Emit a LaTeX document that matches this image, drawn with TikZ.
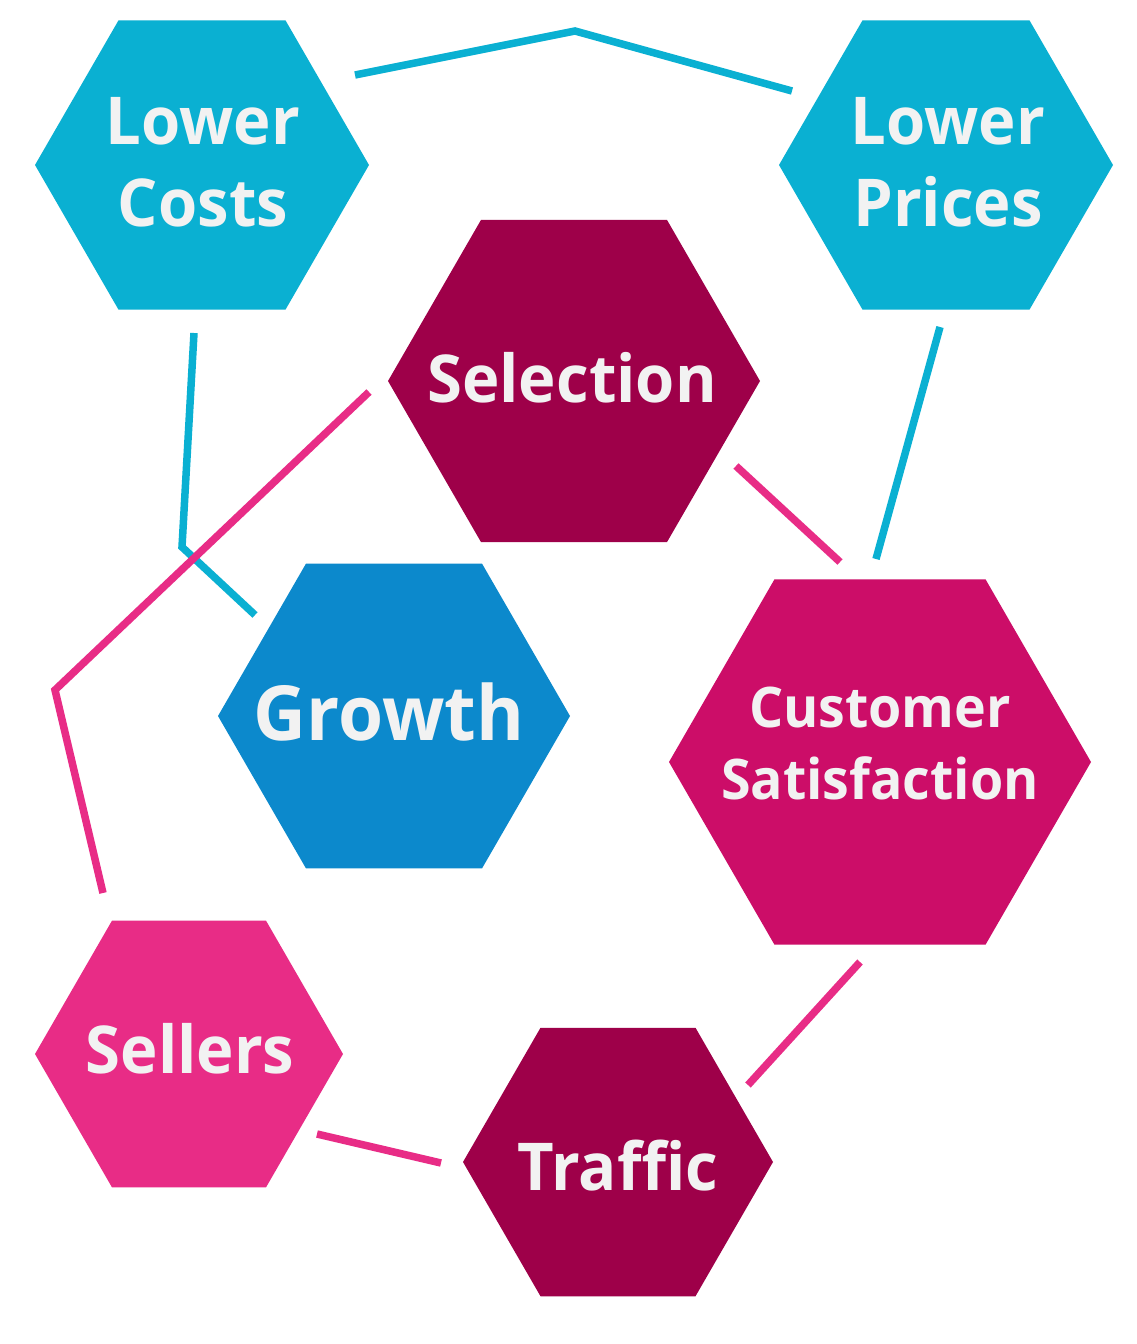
\documentclass[tikz,border=0pt]{standalone}
\usepackage{fontspec}
\setmainfont{Open Sans}[FakeStretch=0.96]
\definecolor{cyanhex}{HTML}{0AB0D2}
\definecolor{plum}{HTML}{9E0049}
\definecolor{bluehex}{HTML}{0C89CC}
\definecolor{magenta2}{HTML}{CC0D68}
\definecolor{pinkhex}{HTML}{E82C86}
\definecolor{txt}{HTML}{F2F2F2}
\tikzset{
  lab/.style={text=txt, inner sep=0pt, align=center, font=\bfseries\fontsize{66}{82}\selectfont},
  cyanline/.style={draw=cyanhex, line width=7.5pt},
  pinkline/.style={draw=pinkhex, line width=7.5pt},
}
\newcommand\hexpath[3]{(#1,#2) ++(#3,0) -- ++(120:#3) -- ++(180:#3) -- ++(240:#3) -- ++(300:#3) -- ++(0:#3) -- cycle}
\begin{document}
\begin{tikzpicture}[x=1pt,y=-1pt]
\useasboundingbox[fill=white] (0,0) rectangle (1137,1344);
% hexagons
\fill[cyanhex] \hexpath{202}{165}{167};
\fill[cyanhex] \hexpath{946}{165}{167};
\fill[plum] \hexpath{574}{381}{186};
\fill[bluehex] \hexpath{394}{716}{176};
\fill[magenta2] \hexpath{880}{762}{211};
\fill[pinkhex] \hexpath{189}{1054}{154};
\fill[plum] \hexpath{618}{1162}{155};
% labels
\node[lab, anchor=north] (lc) at (203,97) {Lower\\Costs};
\node[lab, anchor=north] (lp) at (948,97) {Lower\\Prices};
\node[lab, anchor=base] (sel) at (572,402) {Selection};
\node[lab, anchor=base, font=\bfseries\fontsize{76}{90}\selectfont] (gro) at (389,740) {Growth};
\node[lab, anchor=north, font=\bfseries\fontsize{56}{72}\selectfont] (cs) at (880,687) {Customer\\Satisfaction};
\node[lab, anchor=base] (sell) at (190,1073) {Sellers};
\node[lab, anchor=base] (traf) at (618,1190) {Traffic};
% connector coordinates
\coordinate (a1) at (355,75);
\coordinate (a2) at (575,31);
\coordinate (a3) at (792,91);
\coordinate (b1) at (194,333);
\coordinate (b2) at (182,547);
\coordinate (b3) at (255,615);
\coordinate (c1) at (940,327);
\coordinate (c2) at (876,559);
\coordinate (d1) at (369,392);
\coordinate (d2) at (55,690);
\coordinate (d3) at (103,893);
\coordinate (e1) at (736,466);
\coordinate (e2) at (840,562);
\coordinate (f1) at (860,962);
\coordinate (f2) at (748,1085);
\coordinate (g1) at (317,1134);
\coordinate (g2) at (441,1163);
% connectors
\draw[cyanline] (a1) -- (a2) -- (a3);
\draw[cyanline] (b1) -- (b2) -- (b3);
\draw[cyanline] (c1) -- (c2);
\draw[pinkline] (d1) -- (d2) -- (d3);
\draw[pinkline] (e1) -- (e2);
\draw[pinkline] (f1) -- (f2);
\draw[pinkline] (g1) -- (g2);
\end{tikzpicture}
\end{document}
